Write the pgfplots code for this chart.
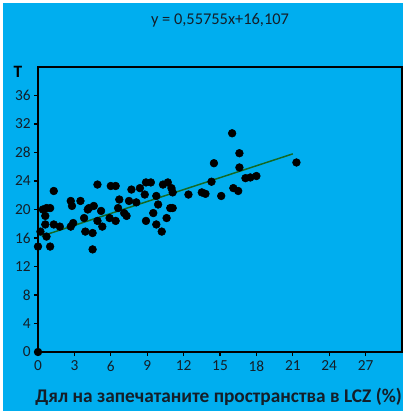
\documentclass[border=0pt]{standalone}
\usepackage{pgfplots}
\pgfplotsset{compat=1.18}
\usepackage{fontspec}
\setmainfont{Carlito}
\definecolor{bg}{RGB}{0,174,239}
\definecolor{trend}{RGB}{20,105,35}
\definecolor{txt}{RGB}{20,30,40}
\begin{document}
\begin{tikzpicture}[x=1pt,y=1pt]
\fill[white] (0,0) rectangle (304.5,308.25);
\fill[bg] (2.25,0) rectangle (302.25,306);
\begin{axis}[
  at={(28.5pt,44.25pt)}, anchor=south west,
  scale only axis, width=273pt, height=213.75pt,
  xmin=0, xmax=30, ymin=0, ymax=40,
  xtick={0,3,...,27}, ytick={0,4,...,36},
  tick align=outside, xtick pos=bottom, ytick pos=left,
  major tick length=3pt,
  axis line style={line width=1pt, black},
  tick style={line width=0.8pt, black},
  ticklabel style={font=\fontsize{11.5}{13}\selectfont, text=txt},
  yticklabel style={xshift=1pt},
  /pgf/number format/assume math mode=true,
  clip=false,
]
\addplot[only marks, mark=*, mark size=2.9pt, black] coordinates {
(0,0)
(0,14.8) (0.2,16.9) (0.4,20) (0.7,20.2) (1.0,20.2) (0.6,19.1) (0.6,17.9) (0.7,16.2) (1.0,14.8)
(1.3,22.6) (1.3,17.9) (1.8,17.6) (2.7,21.2) (2.8,20.5) (2.7,17.6) (2.9,18.1) (3.5,21.2) (3.8,18.8)
(4.1,20) (3.9,16.9) (4.2,20.2) (4.5,16.7) (4.5,14.4) (4.6,20.5) (4.9,23.5) (4.9,18.4) (5.2,19.8)
(5.3,17.6) (6.0,23.3) (6.4,23.3) (5.9,18.8) (6.4,18.4) (6.6,20.2) (6.7,21.4) (7.1,19.5) (7.3,19.1)
(7.7,22.8) (7.5,21.2) (8.1,21) (8.4,23) (8.8,22.1) (8.9,23.8) (9.3,23.8) (8.9,18.4) (9.5,19.5)
(9.75,21.9) (9.75,17.9) (9.9,20.7) (10.2,16.9) (10.3,23.5) (10.7,23.8) (10.6,18.8) (10.9,20.2)
(11.1,20.2) (11.0,23) (11.1,22.4) (12.4,22.1) (13.5,22.4) (13.8,22.2) (14.3,23.9) (14.5,26.5)
(15.1,21.9) (16.0,30.7) (16.6,27.9) (16.6,25.9) (16.1,23.0) (16.5,22.6) (17.1,24.4) (17.5,24.5)
(18.0,24.7) (21.3,26.6)
};
\addplot[trend, line width=1.1pt] coordinates {(0.3,16.27) (21.0,27.81)};
\end{axis}
\node[text=txt, font=\fontsize{12.3}{14}\selectfont] at (165,293) {y = 0,55755x+16,107};
\node[text=black, font=\bfseries\fontsize{13}{15}\selectfont] at (13.5,254) {T};
\node[text=txt, font=\bfseries\fontsize{14.5}{17}\selectfont] at (164,10.5) {Дял на запечатаните пространства в LCZ (\%)};
\end{tikzpicture}
\end{document}
